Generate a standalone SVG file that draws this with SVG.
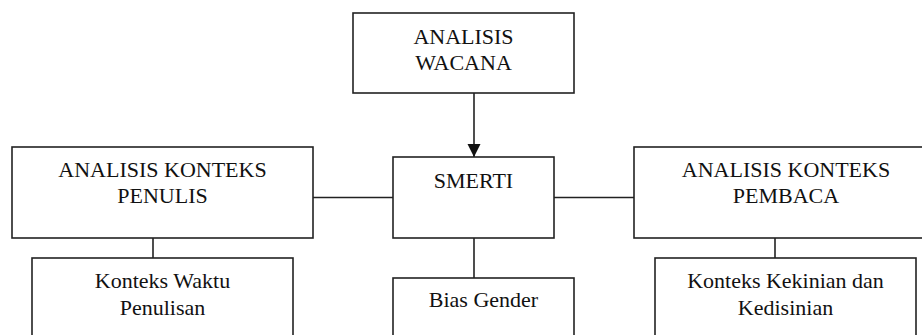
<svg xmlns="http://www.w3.org/2000/svg" width="922" height="335" viewBox="0 0 922 335">
<defs>
<style>
.box{fill:#fff;stroke:#222;stroke-width:1.6}
.t{font-size:22px;fill:#111;text-anchor:middle}
.c{stroke:#222;stroke-width:1.6;fill:none}
</style>
<marker id="arr" markerWidth="14" markerHeight="14" refX="13" refY="6.5" orient="auto" markerUnits="userSpaceOnUse">
<path d="M0,0 L13,6.5 L0,13 Z" fill="#111"/>
</marker>
</defs>
<rect width="922" height="335" fill="#fff"/>
<g id="connectors">
<line class="c" x1="474" y1="93" x2="474" y2="157" marker-end="url(#arr)"/>
<line class="c" x1="313" y1="197.5" x2="393" y2="197.5"/>
<line class="c" x1="554" y1="197.5" x2="634" y2="197.5"/>
<line class="c" x1="153" y1="238" x2="153" y2="258"/>
<line class="c" x1="474" y1="238" x2="474" y2="278"/>
<line class="c" x1="775" y1="238" x2="775" y2="258"/>
</g>
<g font-family="'Liberation Serif', 'Times New Roman', 'DejaVu Serif', serif">
<g id="analisis-wacana">
<rect class="box" x="353" y="13" width="221" height="80"/>
<text class="t" x="463.5" y="44">ANALISIS</text>
<text class="t" x="463.5" y="70">WACANA</text>
</g>
<g id="konteks-penulis">
<rect class="box" x="12" y="147" width="301" height="91"/>
<text class="t" x="162.5" y="177">ANALISIS KONTEKS</text>
<text class="t" x="162.5" y="203">PENULIS</text>
</g>
<g id="smerti">
<rect class="box" x="393" y="157" width="161" height="81"/>
<text class="t" x="473.5" y="188">SMERTI</text>
</g>
<g id="konteks-pembaca">
<rect class="box" x="634" y="147" width="304" height="91"/>
<text class="t" x="786" y="177">ANALISIS KONTEKS</text>
<text class="t" x="786" y="203">PEMBACA</text>
</g>
<g id="waktu-penulisan">
<rect class="box" x="32" y="258" width="261" height="90"/>
<text class="t" x="162.5" y="288">Konteks Waktu</text>
<text class="t" x="162.5" y="315">Penulisan</text>
</g>
<g id="bias-gender">
<rect class="box" x="393" y="278" width="181" height="70"/>
<text class="t" x="483.5" y="307">Bias Gender</text>
</g>
<g id="kekinian-kedisinian">
<rect class="box" x="655" y="258" width="261" height="90"/>
<text class="t" x="785.5" y="288">Konteks Kekinian dan</text>
<text class="t" x="785.5" y="315">Kedisinian</text>
</g>
</g>
</svg>
